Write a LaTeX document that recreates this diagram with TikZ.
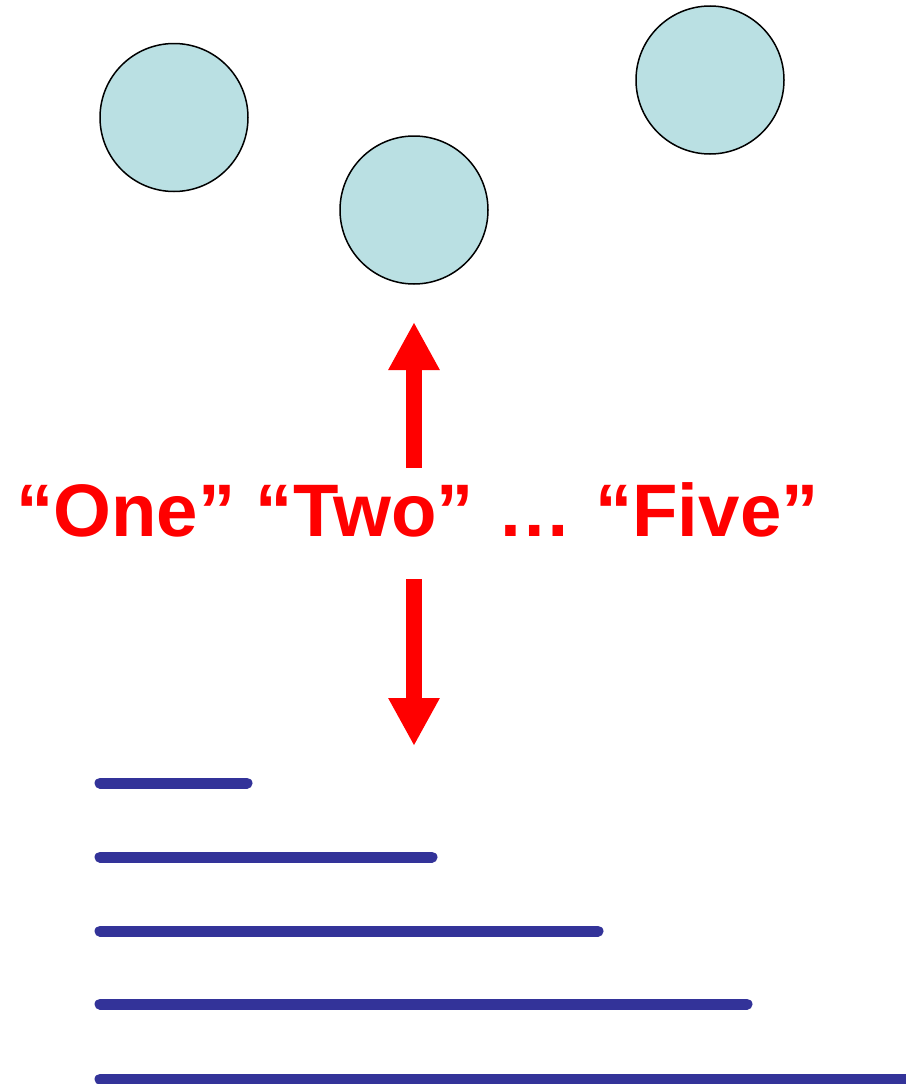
\documentclass[tikz,border=0pt]{standalone}
\usepackage{fontspec}
\setmainfont{Liberation Sans}
\usetikzlibrary{arrows.meta}
\definecolor{ballfill}{HTML}{BAE0E3}
\definecolor{barblue}{HTML}{333399}
\definecolor{arrowred}{HTML}{FF0000}
\begin{document}
\begin{tikzpicture}[x=1pt,y=-1pt,
  ball/.style={circle,draw=black,line width=1.5pt,fill=ballfill,minimum size=148pt,inner sep=0pt},
  bigarrow/.style={arrowred,line width=16pt,-{Triangle[width=48pt,length=48pt]}},
  bar/.style={barblue,line width=11pt,line cap=round},
  label/.style={text=arrowred,font=\fontsize{74.4}{80}\selectfont\bfseries,inner sep=0pt}]
  \useasboundingbox (0,0) rectangle (905,1084);
  % three balls
  \node[ball] (b1) at (174,117.5) {};
  \node[ball] (b2) at (414,210) {};
  \node[ball] (b3) at (710,80) {};
  % the counting words
  \node[label,anchor=base west] (words) at (16,536) {“One” “Two” \kern3pt…\kern3pt{} “Five”};
  % arrow ends
  \coordinate (upfoot) at (414,468);
  \coordinate (uptip) at (414,322);
  \coordinate (downfoot) at (414,579);
  \coordinate (downtip) at (414,746);
  \draw[bigarrow] (upfoot) -- (uptip);
  \draw[bigarrow] (downfoot) -- (downtip);
  % bars of increasing length
  \foreach \y/\xe [count=\i] in {783/247, 857/432, 931/598, 1004/747, 1079/960} {
    \coordinate (bs\i) at (100,\y);
    \coordinate (be\i) at (\xe,\y);
    \draw[bar] (bs\i) -- (be\i);
  }
\end{tikzpicture}
\end{document}
